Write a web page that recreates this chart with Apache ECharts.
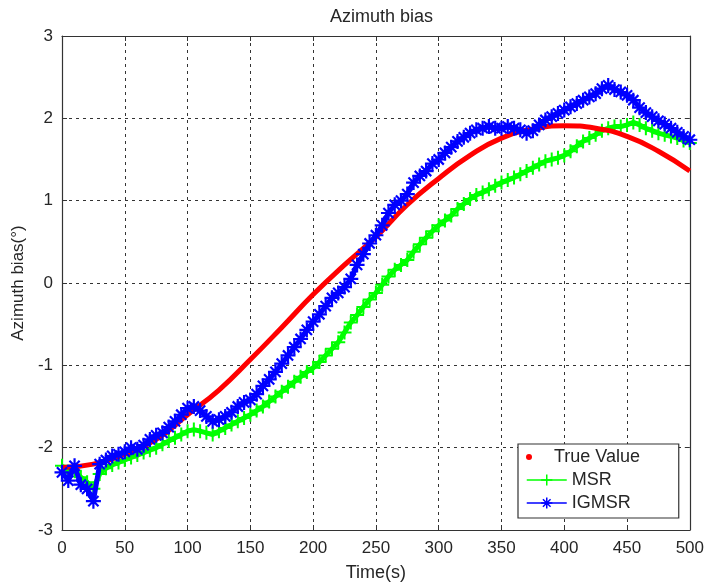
<!DOCTYPE html>
<html>
<head>
<meta charset="utf-8">
<script src="https://cdn.jsdelivr.net/npm/echarts@6/dist/echarts.min.js"></script>
<style>html,body{margin:0;padding:0;background:#fff}#c{width:707px;height:587px}</style>
</head>
<body>
<div id="c"></div>
<script>
// True value curve (time, value)
const trueTime = [0,25,50,75,100,125,150,175,200,225,250,275,300,325,350,375,400,425,450,475,500];
const trueVal = [-2.24,-2.20,-2.08,-1.90,-1.60,-1.30,-0.93,-0.54,-0.14,0.22,0.56,0.95,1.27,1.55,1.76,1.87,1.91,1.88,1.78,1.60,1.36];

// Sample times for estimated series
const sampleTime = [0,5,10,15,20,25,30,35,40,45,50,55,60,65,70,75,80,85,90,95,100,105,110,115,120,125,130,135,140,145,150,155,160,165,170,175,180,185,190,195,200,205,210,215,220,225,230,235,240,245,250,255,260,265,270,275,280,285,290,295,300,305,310,315,320,325,330,335,340,345,350,355,360,365,370,375,380,385,390,395,400,405,410,415,420,425,430,435,440,445,450,455,460,465,470,475,480,485,490,495,500];

const msrVal = [-2.22,-2.30,-2.28,-2.36,-2.42,-2.50,-2.32,-2.25,-2.21,-2.18,-2.15,-2.12,-2.09,-2.06,-2.03,-2.00,-1.96,-1.92,-1.88,-1.84,-1.80,-1.78,-1.80,-1.82,-1.84,-1.80,-1.76,-1.72,-1.68,-1.64,-1.60,-1.55,-1.50,-1.44,-1.38,-1.32,-1.26,-1.20,-1.14,-1.08,-1.03,-0.96,-0.88,-0.80,-0.72,-0.60,-0.48,-0.39,-0.29,-0.20,-0.12,-0.02,0.08,0.16,0.22,0.28,0.38,0.47,0.55,0.63,0.70,0.76,0.82,0.90,0.96,1.02,1.07,1.10,1.14,1.18,1.22,1.25,1.28,1.32,1.36,1.40,1.44,1.48,1.50,1.52,1.55,1.60,1.66,1.72,1.76,1.80,1.85,1.88,1.90,1.90,1.92,1.95,1.92,1.88,1.85,1.82,1.80,1.78,1.76,1.73,1.70];

const igmsrVal = [-2.30,-2.40,-2.22,-2.45,-2.50,-2.65,-2.20,-2.15,-2.10,-2.08,-2.05,-2.00,-2.02,-1.97,-1.90,-1.85,-1.82,-1.75,-1.68,-1.60,-1.52,-1.50,-1.55,-1.62,-1.68,-1.66,-1.62,-1.57,-1.50,-1.45,-1.42,-1.35,-1.25,-1.17,-1.08,-0.98,-0.88,-0.78,-0.68,-0.57,-0.47,-0.38,-0.28,-0.18,-0.12,-0.05,0.05,0.22,0.35,0.48,0.58,0.70,0.85,0.95,1.00,1.08,1.22,1.30,1.36,1.45,1.50,1.58,1.65,1.72,1.77,1.82,1.86,1.88,1.90,1.88,1.88,1.90,1.88,1.86,1.82,1.85,1.92,1.98,2.02,2.06,2.10,2.14,2.18,2.22,2.26,2.30,2.36,2.40,2.35,2.32,2.28,2.22,2.13,2.07,2.02,1.97,1.93,1.88,1.83,1.78,1.74];

const xTicks = {min:0, max:500, interval:50};
const yTicks = {min:-3, max:3, interval:1};

const pair = (t, v) => t.map((x, i) => [x, v[i]]);

const plusSym = 'path://M5,0L5,10M0,5L10,5';
const starSym = 'path://M5,0L5,10M0,5L10,5M1.6,1.6L8.4,8.4M1.6,8.4L8.4,1.6';

const font = 'Liberation Sans, Arial, sans-serif';
const txt = '#262626';
const axisLine = {show:true, onZero:false, lineStyle:{color:'#333', width:1.2}};
const tick = {show:true, inside:true, length:5, lineStyle:{color:'#333'}};
const split = {show:true, lineStyle:{color:'#333', type:[3,4], width:1}};

const chart = echarts.init(document.getElementById('c'), null, {renderer:'canvas'});
chart.setOption({
  animation:false,
  backgroundColor:'#fff',
  title:{text:'Azimuth bias', left:325, top:3, textStyle:{fontFamily:font, fontSize:18, fontWeight:'normal', color:txt}},
  grid:{left:62, right:15, top:36, bottom:57},
  xAxis:[
    {type:'value', position:'bottom', ...xTicks, name:'Time(s)', nameLocation:'middle', nameGap:34,
     nameTextStyle:{fontFamily:font, fontSize:18, color:txt},
     axisLine, axisTick:tick, splitLine:split,
     axisLabel:{fontFamily:font, fontSize:17, color:txt, margin:10}},
    {type:'value', position:'top', ...xTicks, axisLine, axisTick:tick, splitLine:{show:false}, axisLabel:{show:false}}
  ],
  yAxis:[
    {type:'value', position:'left', ...yTicks, name:'Azimuth bias(°)', nameLocation:'middle', nameGap:34, nameRotate:90,
     nameTextStyle:{fontFamily:font, fontSize:17, color:txt},
     axisLine, axisTick:tick, splitLine:split,
     axisLabel:{fontFamily:font, fontSize:17, color:txt, margin:9}},
    {type:'value', position:'right', ...yTicks, axisLine, axisTick:tick, splitLine:{show:false}, axisLabel:{show:false}}
  ],
  legend:[
    {data:[{name:'True Value', icon:'circle'}], orient:'vertical', left:526, top:448, padding:0,
     itemWidth:40, itemHeight:6, z:10,
     textStyle:{fontFamily:font, fontSize:18, color:txt, lineHeight:18}},
    {data:['MSR','IGMSR'], orient:'vertical', left:518, top:444, padding:[27,48,6,8],
     itemWidth:40, itemHeight:14, itemGap:5, z:8,
     lineStyle:{width:1.5}, itemStyle:{borderWidth:1.5},
     backgroundColor:'#fff', borderColor:'#333', borderWidth:1.2,
     textStyle:{fontFamily:font, fontSize:18, color:txt, lineHeight:18}}
  ],
  series:[
    {name:'True Value', type:'line', data:pair(trueTime, trueVal), smooth:true, showSymbol:false,
     lineStyle:{color:'#ff0000', width:5}, itemStyle:{color:'#ff0000'}, z:3},
    {name:'MSR', type:'line', data:pair(sampleTime, msrVal), symbol:plusSym, symbolSize:14, showAllSymbol:true,
     lineStyle:{color:'#00ff00', width:5}, itemStyle:{color:'#00ff00', borderColor:'#00ff00', borderWidth:2}, z:2},
    {name:'IGMSR', type:'line', data:pair(sampleTime, igmsrVal), symbol:starSym, symbolSize:15, showAllSymbol:true,
     lineStyle:{color:'#0000ff', width:5}, itemStyle:{color:'#0000ff', borderColor:'#0000ff', borderWidth:2.2}, z:4}
  ]
});
</script>
</body>
</html>
